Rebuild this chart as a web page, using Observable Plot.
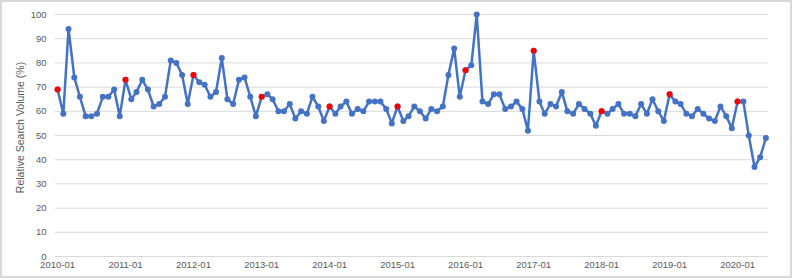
<!DOCTYPE html>
<html><head><meta charset="utf-8">
<script src="https://cdn.jsdelivr.net/npm/d3@7"></script>
<script src="https://cdn.jsdelivr.net/npm/@observablehq/plot@0.6"></script>
<style>body{margin:0;background:#fff;}</style>
</head><body><div id="chart"></div>
<script>
// Monthly relative search volume, 2010-01 .. 2020-06
const startYear = 2010;
const volume = [
  69, 59, 94, 74, 66, 58, 58, 59, 66, 66, 69, 58,   // 2010
  73, 65, 68, 73, 69, 62, 63, 66, 81, 80, 75, 63,   // 2011
  75, 72, 71, 66, 68, 82, 65, 63, 73, 74, 66, 58,   // 2012
  66, 67, 65, 60, 60, 63, 57, 60, 59, 66, 62, 56,   // 2013
  62, 59, 62, 64, 59, 61, 60, 64, 64, 64, 61, 55,   // 2014
  62, 56, 58, 62, 60, 57, 61, 60, 62, 75, 86, 66,   // 2015
  77, 79, 100, 64, 63, 67, 67, 61, 62, 64, 61, 52,  // 2016
  85, 64, 59, 63, 62, 68, 60, 59, 63, 61, 59, 54,   // 2017
  60, 59, 61, 63, 59, 59, 58, 63, 59, 65, 60, 56,   // 2018
  67, 64, 63, 59, 58, 61, 59, 57, 56, 62, 58, 53,   // 2019
  64, 64, 50, 37, 41, 49                            // 2020
];
const yTicks = [0, 10, 20, 30, 40, 50, 60, 70, 80, 90, 100];
const xTickLabels = ["2010-01","2011-01","2012-01","2013-01","2014-01","2015-01","2016-01","2017-01","2018-01","2019-01","2020-01"];
const yTitle = "Relative Search Volume (%)";

const data = volume.map((v, i) => ({date: new Date(Date.UTC(startYear, i, 1)), value: v, jan: i % 12 === 0}));
const janData = data.filter(d => d.jan);
const parseTick = s => new Date(Date.UTC(+s.slice(0, 4), +s.slice(5, 7) - 1, 1));

const plot = Plot.plot({
  width: 795, height: 280,
  marginLeft: 55, marginRight: 27, marginTop: 14, marginBottom: 24,
  style: {fontFamily: "'Liberation Sans', Arial, sans-serif", fontSize: "9.5px", color: "#595959", background: "#fff"},
  x: {type: "utc", domain: [new Date(Date.UTC(2009, 11, 21)), new Date(Date.UTC(2020, 5, 15))], label: null},
  y: {domain: [0, 100], label: null},
  marks: [
    Plot.gridY(yTicks, {stroke: "#d9d9d9", strokeOpacity: 1, strokeWidth: 1}),
    Plot.axisX({ticks: xTickLabels.map(parseTick), tickFormat: d3.utcFormat("%Y-%m"), tickSize: 0, tickPadding: 5, label: null}),
    Plot.axisY({ticks: yTicks, tickSize: 0, tickPadding: 9, label: null}),
    Plot.line(data, {x: "date", y: "value", stroke: "#4472C4", strokeWidth: 2.5}),
    Plot.dot(data, {x: "date", y: "value", fill: "#4472C4", r: 3}),
    Plot.dot(janData, {x: "date", y: "value", fill: "#FF0000", r: 3}),
    Plot.text([yTitle], {frameAnchor: "left", textAnchor: "middle", dx: -35, dy: -8, rotate: -90, fontSize: 10.5, fill: "#595959"})
  ]
});
d3.select(plot).append("rect")
  .attr("x", 1).attr("y", 1).attr("width", 790).attr("height", 276)
  .attr("fill", "none").attr("stroke", "#d9d9d9").attr("stroke-width", 2);
document.getElementById("chart").appendChild(plot);
</script>
</body></html>
